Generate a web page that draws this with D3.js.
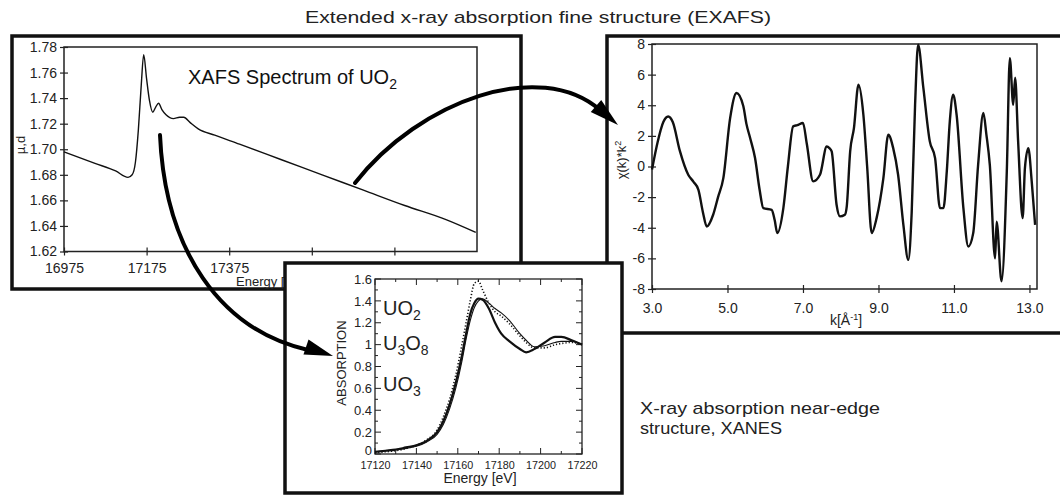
<!DOCTYPE html>
<html>
<head>
<meta charset="utf-8">
<script src="https://cdn.jsdelivr.net/npm/d3@7"></script>
<style>
  body { margin: 0; background: #fff; }
  svg { display: block; font-family: "Liberation Sans", Arial, sans-serif; }
  .tick text { fill: #222; }
</style>
</head>
<body>
<div id="chart"></div>
<script>
// XAFS spectrum of UO2 (energy in eV, absorption mu*d)
const xafsEnergy = [16975, 17050, 17100, 17130, 17140, 17148, 17155, 17162, 17168, 17175, 17182, 17190, 17197, 17204, 17212, 17222, 17240, 17255, 17265, 17280, 17300, 17340, 17400, 17500, 17600, 17700, 17800, 17900, 17972];
const xafsMu = [1.698, 1.689, 1.683, 1.678, 1.680, 1.690, 1.715, 1.750, 1.774, 1.755, 1.738, 1.729, 1.733, 1.736, 1.731, 1.727, 1.724, 1.725, 1.725, 1.721, 1.716, 1.711, 1.704, 1.692, 1.680, 1.668, 1.656, 1.645, 1.635];
const xafsXTicks = [16975, 17175, 17375, 17575, 17775];
const xafsYTicks = [1.62, 1.64, 1.66, 1.68, 1.70, 1.72, 1.74, 1.76, 1.78];

// EXAFS chi(k)*k^2
const exafsK = [3.00, 3.15, 3.30, 3.43, 3.55, 3.74, 3.96, 4.10, 4.23, 4.35, 4.45, 4.62, 4.75, 4.89, 5.07, 5.24, 5.42, 5.50, 5.60, 5.73, 5.85, 5.95, 6.17, 6.25, 6.32, 6.48, 6.60, 6.74, 6.85, 7.00, 7.10, 7.27, 7.45, 7.63, 7.70, 7.76, 7.89, 7.98, 8.11, 8.16, 8.25, 8.35, 8.47, 8.60, 8.70, 8.82, 8.95, 9.13, 9.26, 9.39, 9.52, 9.66, 9.79, 9.88, 9.97, 10.05, 10.19, 10.36, 10.50, 10.63, 10.72, 10.81, 10.89, 10.98, 11.07, 11.25, 11.38, 11.51, 11.64, 11.78, 11.86, 11.95, 12.09, 12.13, 12.26, 12.40, 12.48, 12.57, 12.62, 12.70, 12.82, 12.88, 12.97, 13.06, 13.15];
const exafsChi = [-0.2, 1.6, 2.9, 3.27, 2.9, 1.0, -0.54, -1.0, -1.52, -3.0, -3.92, -3.15, -2.0, -0.76, 3.16, 4.8, 3.93, 2.8, 1.86, 0.55, -1.5, -2.72, -2.83, -3.5, -4.35, -2.72, 0.0, 2.62, 2.7, 2.84, 1.5, -0.97, -0.54, 1.31, 1.2, 0.99, -2.5, -3.26, -3.15, -2.6, 0.99, 2.5, 5.34, 3.38, 0.0, -4.35, -3.37, -0.76, 2.07, 1.2, -0.54, -3.81, -6.1, -3.0, 4.03, 7.95, 5.12, 1.64, 0.55, -2.72, -2.72, -0.32, 2.95, 4.69, 3.38, -2.72, -5.22, -4.35, 0.11, 3.49, 2.07, 0.11, -6.0, -3.6, -7.5, -0.32, 7.08, 4.03, 5.8, 1.64, -3.37, -0.1, 1.2, -0.97, -3.81];
const exafsXTicks = [3, 5, 7, 9, 11, 13];
const exafsYTicks = [-8, -6, -4, -2, 0, 2, 4, 6, 8];

// XANES of the three oxides
const xanesEnergy = [17120, 17125, 17130, 17135, 17140, 17145, 17150, 17153, 17156, 17159, 17162, 17164, 17166, 17168, 17170, 17172, 17175, 17178, 17181, 17185, 17190, 17193, 17197, 17202, 17207, 17210, 17215, 17220];
const xanesUO2 = [0.02, 0.03, 0.04, 0.06, 0.08, 0.12, 0.20, 0.30, 0.45, 0.65, 0.90, 1.10, 1.28, 1.38, 1.42, 1.41, 1.33, 1.20, 1.10, 1.03, 0.96, 0.93, 0.96, 1.02, 1.07, 1.07, 1.04, 1.00];
const xanesU3O8 = [0.02, 0.03, 0.04, 0.05, 0.07, 0.11, 0.18, 0.27, 0.41, 0.60, 0.85, 1.05, 1.22, 1.34, 1.40, 1.42, 1.38, 1.33, 1.29, 1.22, 1.10, 1.04, 0.98, 0.99, 1.02, 1.03, 1.03, 1.00];
const xanesUO3 = [0.01, 0.02, 0.03, 0.05, 0.08, 0.13, 0.22, 0.34, 0.50, 0.72, 1.00, 1.20, 1.40, 1.56, 1.58, 1.50, 1.38, 1.30, 1.26, 1.19, 1.08, 1.02, 0.97, 0.97, 1.00, 1.01, 1.02, 1.00];
const xanesXTicks = [17120, 17140, 17160, 17180, 17200, 17220];
const xanesYTicks = [0, 0.2, 0.4, 0.6, 0.8, 1, 1.2, 1.4, 1.6];

const W = 1060, H = 495;
const svg = d3.select('#chart').append('svg').attr('width', W).attr('height', H);

// cross ticks (out and in) like the original plots
function crossTicks(g, orient, k) {
    g.select('.domain').remove();
    g.selectAll('.tick line').attr('stroke', '#222').attr('stroke-width', 1.2);
    if (orient === 'left') g.selectAll('.tick line').attr('x1', k);
    else g.selectAll('.tick line').attr('y1', -k);
}

function frame(x0, y0, x1, y1, sw) {
    svg.append('rect')
        .attr('x', x0).attr('y', y0)
        .attr('width', x1 - x0).attr('height', y1 - y0)
        .attr('fill', '#fff').attr('stroke', '#111').attr('stroke-width', sw);
}

// ---------- Left panel: XAFS spectrum ----------
frame(12, 36, 521, 289, 3.5);
const x1 = d3.scaleLinear().domain([16975, 17975]).range([64, 477]);
const y1 = d3.scaleLinear().domain([1.62, 1.78]).range([251.5, 47]);

svg.append('rect').attr('x', 64).attr('y', 47).attr('width', 413).attr('height', 204.5)
    .attr('fill', 'none').attr('stroke', '#222').attr('stroke-width', 1.5);

svg.append('g').attr('transform', 'translate(64,0)')
    .call(d3.axisLeft(y1).tickValues(xafsYTicks).tickFormat(d3.format('.2f')).tickSize(4).tickPadding(3))
    .call(g => crossTicks(g, 'left', 4))
    .selectAll('text').attr('font-size', 14).attr('font-family', 'Liberation Sans, Arial');

svg.append('g').attr('transform', 'translate(0,251.5)')
    .call(d3.axisBottom(x1).tickValues(xafsXTicks).tickFormat(d3.format('d')).tickSize(4).tickPadding(8))
    .call(g => crossTicks(g, 'bottom', 4))
    .selectAll('text').attr('font-size', 14).attr('font-family', 'Liberation Sans, Arial');

svg.append('text').attr('x', 270).attr('y', 286).attr('text-anchor', 'middle')
    .attr('font-size', 13).attr('fill', '#222').text('Energy [eV]');
svg.append('text').attr('transform', 'translate(25,145) rotate(-90)').attr('text-anchor', 'middle')
    .attr('font-size', 13).attr('fill', '#222').text('µ,d');

const t1 = svg.append('text').attr('x', 188).attr('y', 84).attr('font-size', 20).attr('fill', '#111');
t1.append('tspan').text('XAFS Spectrum of UO');
t1.append('tspan').attr('font-size', 14).attr('dy', 5).text('2');

const xafsData = xafsEnergy.map((e, i) => [e, xafsMu[i]]);
svg.append('path').datum(xafsData)
    .attr('fill', 'none').attr('stroke', '#111').attr('stroke-width', 1.4)
    .attr('d', d3.line().x(d => x1(d[0])).y(d => y1(d[1])).curve(d3.curveMonotoneX));

// ---------- Right panel: EXAFS ----------
frame(607, 36, 1075, 333, 3.5);
const x2 = d3.scaleLinear().domain([3.0, 13.2]).range([652, 1037]);
const y2 = d3.scaleLinear().domain([-8, 8]).range([289, 44]);

svg.append('rect').attr('x', 652).attr('y', 44).attr('width', 385).attr('height', 245)
    .attr('fill', 'none').attr('stroke', '#222').attr('stroke-width', 1.5);

svg.append('g').attr('transform', 'translate(652,0)')
    .call(d3.axisLeft(y2).tickValues(exafsYTicks).tickFormat(d => String(d)).tickSize(4).tickPadding(3))
    .call(g => crossTicks(g, 'left', 4))
    .selectAll('text').attr('font-size', 14).attr('font-family', 'Liberation Sans, Arial');

svg.append('g').attr('transform', 'translate(0,289)')
    .call(d3.axisBottom(x2).tickValues(exafsXTicks).tickFormat(d3.format('.1f')).tickSize(4).tickPadding(10))
    .call(g => crossTicks(g, 'bottom', 4))
    .selectAll('text').attr('font-size', 14).attr('font-family', 'Liberation Sans, Arial');

const kl = svg.append('text').attr('x', 846).attr('y', 325).attr('text-anchor', 'middle')
    .attr('font-size', 14).attr('fill', '#222');
kl.append('tspan').text('k[Å');
kl.append('tspan').attr('font-size', 9).attr('dy', -5).text('-1');
kl.append('tspan').attr('dy', 5).text(']');

const cl = svg.append('text').attr('transform', 'translate(626,160) rotate(-90)').attr('text-anchor', 'middle')
    .attr('font-size', 13).attr('fill', '#222');
cl.append('tspan').text('χ(k)*k');
cl.append('tspan').attr('font-size', 9).attr('dy', -5).text('2');

const exafsData = exafsK.map((k, i) => [k, exafsChi[i]]);
svg.append('path').datum(exafsData)
    .attr('fill', 'none').attr('stroke', '#111').attr('stroke-width', 2.4).attr('stroke-linejoin', 'round')
    .attr('d', d3.line().x(d => x2(d[0])).y(d => y2(d[1])).curve(d3.curveMonotoneX));

// ---------- Bottom panel: XANES ----------
frame(285, 263, 622, 493, 3.5);
const x3 = d3.scaleLinear().domain([17120, 17220]).range([375, 582]);
const y3 = d3.scaleLinear().domain([0, 1.6]).range([454, 279]);

svg.append('rect').attr('x', 375).attr('y', 279).attr('width', 207).attr('height', 175)
    .attr('fill', 'none').attr('stroke', '#222').attr('stroke-width', 1.3);

const minorX = d3.range(17120, 17221, 10);
const minorY = d3.range(0, 1.61, 0.1);
const tickG = svg.append('g').attr('stroke', '#222').attr('stroke-width', 1);
tickG.selectAll('.mxb').data(minorX).join('line')
    .attr('x1', d => x3(d)).attr('x2', d => x3(d)).attr('y1', 454).attr('y2', d => d % 20 === 0 ? 448 : 451);
tickG.selectAll('.mxt').data(minorX).join('line')
    .attr('x1', d => x3(d)).attr('x2', d => x3(d)).attr('y1', 279).attr('y2', d => d % 20 === 0 ? 285 : 282);
tickG.selectAll('.myl').data(minorY).join('line')
    .attr('x1', 375).attr('x2', (d, i) => i % 2 === 0 ? 381 : 378).attr('y1', d => y3(d)).attr('y2', d => y3(d));
tickG.selectAll('.myr').data(minorY).join('line')
    .attr('x1', 582).attr('x2', (d, i) => i % 2 === 0 ? 576 : 579).attr('y1', d => y3(d)).attr('y2', d => y3(d));

svg.append('g').attr('transform', 'translate(375,0)')
    .call(d3.axisLeft(y3).tickValues(xanesYTicks).tickFormat(d => String(+d.toFixed(1))).tickSize(0).tickPadding(3))
    .call(g => g.select('.domain').remove())
    .selectAll('text').attr('font-size', 13).attr('font-family', 'Liberation Sans, Arial')
    .attr('dy', d => d === 0 ? '0.05em' : '0.32em');

svg.append('g').attr('transform', 'translate(0,454)')
    .call(d3.axisBottom(x3).tickValues(xanesXTicks).tickFormat(d3.format('d')).tickSize(0).tickPadding(7))
    .call(g => g.select('.domain').remove())
    .selectAll('text').attr('font-size', 11).attr('font-family', 'Liberation Sans, Arial')
    .attr('textLength', 30).attr('lengthAdjust', 'spacingAndGlyphs');

svg.append('text').attr('x', 480).attr('y', 483).attr('text-anchor', 'middle')
    .attr('font-size', 14).attr('fill', '#222').text('Energy [eV]');
svg.append('text').attr('transform', 'translate(346,363) rotate(-90)').attr('text-anchor', 'middle')
    .attr('font-size', 13).attr('fill', '#222').text('ABSORPTION');

function formula(x, y, parts) {
    const t = svg.append('text').attr('x', x).attr('y', y).attr('font-size', 20).attr('fill', '#222');
    parts.forEach(p => {
        if (p.sub) t.append('tspan').attr('font-size', 14).attr('dy', 5).text(p.s);
        else t.append('tspan').attr('dy', p.back ? -5 : 0).text(p.s);
    });
}
formula(383, 315, [{ s: 'UO' }, { s: '2', sub: true }]);
formula(383, 350, [{ s: 'U' }, { s: '3', sub: true }, { s: 'O', back: true }, { s: '8', sub: true }]);
formula(383, 391, [{ s: 'UO' }, { s: '3', sub: true }]);

const xline = d3.line().x(d => x3(d[0])).y(d => y3(d[1])).curve(d3.curveMonotoneX);
const xanesSeries = [
    { values: xanesUO2, width: 2.2, dash: null },
    { values: xanesU3O8, width: 1.1, dash: null },
    { values: xanesUO3, width: 1.6, dash: '1.2,2' }
];
svg.selectAll('.xanes').data(xanesSeries).join('path')
    .attr('fill', 'none').attr('stroke', '#111')
    .attr('stroke-width', d => d.width).attr('stroke-dasharray', d => d.dash)
    .attr('d', d => xline(xanesEnergy.map((e, i) => [e, d.values[i]])));

// ---------- Captions ----------
svg.append('text').attr('x', 305).attr('y', 23).attr('font-size', 17).attr('fill', '#222')
    .attr('textLength', 466).attr('lengthAdjust', 'spacingAndGlyphs')
    .text('Extended x-ray absorption fine structure (EXAFS)');
svg.append('text').attr('x', 640).attr('y', 414).attr('font-size', 17).attr('fill', '#222')
    .attr('textLength', 240).attr('lengthAdjust', 'spacingAndGlyphs')
    .text('X-ray absorption near-edge');
svg.append('text').attr('x', 640).attr('y', 434).attr('font-size', 17).attr('fill', '#222')
    .attr('textLength', 142).attr('lengthAdjust', 'spacingAndGlyphs')
    .text('structure, XANES');

// ---------- Arrows ----------
function arrow(d, tip, base) {
    svg.append('path').attr('d', d).attr('fill', 'none').attr('stroke', '#000')
        .attr('stroke-width', 4).attr('stroke-linecap', 'round');
    const ang = Math.atan2(tip[1] - base[1], tip[0] - base[0]);
    const w = 8;
    const p1 = [base[0] + Math.cos(ang + Math.PI / 2) * w, base[1] + Math.sin(ang + Math.PI / 2) * w];
    const p2 = [base[0] + Math.cos(ang - Math.PI / 2) * w, base[1] + Math.sin(ang - Math.PI / 2) * w];
    svg.append('path').attr('d', `M${tip}L${p1}L${p2}Z`).attr('fill', '#000');
}
arrow('M355,183 C420,100 540,58 600,110', [618, 125], [596, 106]);
arrow('M160,135 C165,250 220,330 308,350', [333, 356], [306, 347]);
</script>
</body>
</html>
